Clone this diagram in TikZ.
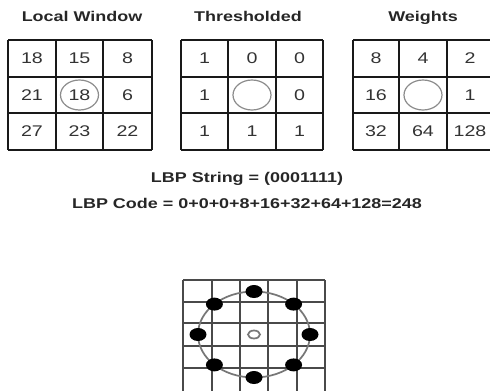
\documentclass[tikz,border=0pt]{standalone}
\usepackage{fontspec}
\usepackage{graphicx}
\setmainfont{Liberation Sans}
\definecolor{numgray}{HTML}{333333}
\definecolor{circgray}{HTML}{8C8C8C}
\definecolor{gridgray}{HTML}{4A4A4A}
\newcommand{\wide}[1]{\scalebox{1.27}[1]{#1}}
\tikzset{
  num/.style={font=\fontsize{11.6}{13}\selectfont, text=numgray, inner sep=0pt},
  ttl/.style={font=\fontsize{10.6}{12}\selectfont\bfseries, text=black!85, inner sep=0pt, anchor=base},
  cellline/.style={line width=1.9pt, draw=black!90},
  cellcirc/.style={draw=circgray, line width=0.9pt},
  fine/.style={draw=gridgray, line width=1.4pt},
  dot/.style={fill=black}
}
\begin{document}
\begin{tikzpicture}[x=0.75pt,y=-0.75pt]
\useasboundingbox (0,0) rectangle (490,390);
% titles
\node[ttl] (t1) at (82,21.5) {\wide{Local Window}};
\node[ttl] (t2) at (248,21.5) {\wide{Thresholded}};
\node[ttl] (t3) at (423,21.5) {\wide{Weights}};
% grid 1
\foreach \x in {8,56,103,152} \draw[cellline] (\x,40) -- (\x,150);
\foreach \y in {40,77,113,150} \draw[cellline] (8,\y) -- (152,\y);
% grid 2
\foreach \x in {181,228,276,323} \draw[cellline] (\x,40) -- (\x,150);
\foreach \y in {40,77,113,150} \draw[cellline] (181,\y) -- (323,\y);
% grid 3
\foreach \x in {353,399,447,494} \draw[cellline] (\x,40) -- (\x,150);
\foreach \y in {40,77,113,150} \draw[cellline] (353,\y) -- (494,\y);
% circles
\draw[cellcirc] (79.5,95) ellipse [x radius=19, y radius=15];
\draw[cellcirc] (252,95) ellipse [x radius=19, y radius=15];
\draw[cellcirc] (423,95) ellipse [x radius=19, y radius=15];
% local window numbers
\node[num] (a11) at (32,58.5) {\wide{18}};
\node[num] (a12) at (79.5,58.5) {\wide{15}};
\node[num] (a13) at (127.5,58.5) {\wide{8}};
\node[num] (a21) at (32,95) {\wide{21}};
\node[num] (a22) at (79.5,95) {\wide{18}};
\node[num] (a23) at (127.5,95) {\wide{6}};
\node[num] (a31) at (32,131.5) {\wide{27}};
\node[num] (a32) at (79.5,131.5) {\wide{23}};
\node[num] (a33) at (127.5,131.5) {\wide{22}};
% thresholded
\node[num] (b11) at (204.5,58.5) {\wide{1}};
\node[num] (b12) at (252,58.5) {\wide{0}};
\node[num] (b13) at (299.5,58.5) {\wide{0}};
\node[num] (b21) at (204.5,95) {\wide{1}};
\node[num] (b23) at (299.5,95) {\wide{0}};
\node[num] (b31) at (204.5,131.5) {\wide{1}};
\node[num] (b32) at (252,131.5) {\wide{1}};
\node[num] (b33) at (299.5,131.5) {\wide{1}};
% weights
\node[num] (c11) at (376,58.5) {\wide{8}};
\node[num] (c12) at (423,58.5) {\wide{4}};
\node[num] (c13) at (470,58.5) {\wide{2}};
\node[num] (c21) at (376,95) {\wide{16}};
\node[num] (c23) at (470,95) {\wide{1}};
\node[num] (c31) at (376,131.5) {\wide{32}};
\node[num] (c32) at (423,131.5) {\wide{64}};
\node[num] (c33) at (470,131.5) {\wide{128}};
% LBP text
\node[ttl] (s1) at (247,182.5) {\wide{LBP String = (0001111)}};
\node[ttl] (s2) at (247,208.5) {\wide{LBP Code = 0+0+0+8+16+32+64+128=248}};
% bottom grid
\foreach \x in {183,212,240,268,297,325} \draw[fine] (\x,280) -- (\x,392);
\foreach \y in {280,302,323,346,368} \draw[fine] (183,\y) -- (325,\y);
\draw[draw=circgray!85!black, line width=1.3pt] (254,334.5) ellipse [x radius=56, y radius=43];
\draw[draw=circgray!85!black, line width=1.3pt] (254,334.5) ellipse [x radius=6, y radius=4];
\foreach \a in {0,45,...,315}
  \fill[dot] ({254+56*cos(\a)},{334.5-43*sin(\a)}) ellipse [x radius=8.5, y radius=6.5];
\end{tikzpicture}
\end{document}
